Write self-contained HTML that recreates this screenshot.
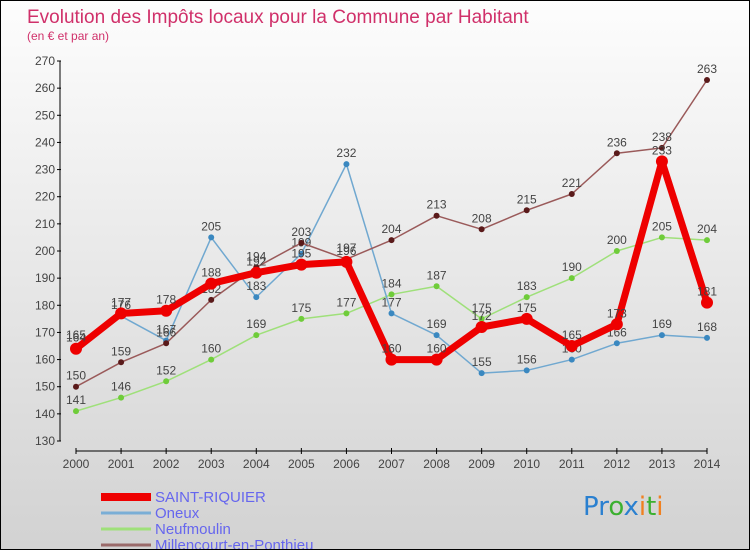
<!DOCTYPE html>
<html><head><meta charset="utf-8"><style>
body{margin:0;}
#c{width:748px;height:548px;border:1px solid #000;background:linear-gradient(#fdfdfd,#d2d2d2);position:relative;overflow:hidden;font-family:"Liberation Sans",sans-serif;}
</style></head><body>
<div id="c">
<svg id="s" width="748" height="548" xmlns="http://www.w3.org/2000/svg">
<text x="26" y="22" font-size="19" fill="#d0306a">Evolution des Impôts locaux pour la Commune par Habitant</text>
<text x="26" y="39" font-size="12" fill="#d0306a">(en € et par an)</text>
</svg>
</div>
<script>
const years=[2000,2001,2002,2003,2004,2005,2006,2007,2008,2009,2010,2011,2012,2013,2014];
const yTicks=[130,140,150,160,170,180,190,200,210,220,230,240,250,260,270];
const saint=[164,177,178,188,192,195,196,160,160,172,175,165,173,233,181];
const oneux=[165,176,167,205,183,199,232,177,169,155,156,160,166,169,168];
const neuf=[141,146,152,160,169,175,177,184,187,175,183,190,200,205,204];
const mill=[150,159,166,182,194,203,197,204,213,208,215,221,236,238,263];
const seriesNames=["SAINT-RIQUIER","Oneux","Neufmoulin","Millencourt-en-Ponthieu"];
const svg=document.getElementById('s');const NS="http://www.w3.org/2000/svg";
function xS(i){return 75+i*(631/14);}
function yS(v){return 60+(270-v)*(380/140);}
function el(t,a,p){const e=document.createElementNS(NS,t);for(const k in a)e.setAttribute(k,a[k]);(p||svg).appendChild(e);return e;}
// axes
let ya=el('line',{x1:59,y1:60,x2:59,y2:440,stroke:'#000'});


yTicks.forEach(v=>{
 el('line',{x1:56,x2:60,y1:yS(v),y2:yS(v),stroke:'#000'});
 const t=el('text',{x:54,y:yS(v)+4,'font-size':12,fill:'#444','text-anchor':'end'});
 t.textContent=v;
 
 
});
let xa=el('line',{x1:75,y1:450,x2:706,y2:450,stroke:'#000'});


years.forEach((y,i)=>{
 el('line',{x1:xS(i),x2:xS(i),y1:447,y2:453,stroke:'#000'});
 const t=el('text',{x:xS(i),y:467,'font-size':12,fill:'#444','text-anchor':'middle'});
 t.textContent=y;
 
 
});
function series(d,col,w,r,dot,name){
 const g=el('g',{});
 
 
 el('polyline',{points:d.map((v,i)=>xS(i)+','+yS(v)).join(' '),fill:'none',stroke:col,'stroke-width':w,'stroke-linejoin':'round'},g);
 d.forEach((v,i)=>{
  const c=el('circle',{cx:xS(i),cy:yS(v),r:r,fill:dot},g);
  
  
  const t=el('text',{x:xS(i),y:yS(v)-7,'font-size':12,fill:'#444','text-anchor':'middle'},g);
  t.textContent=v;
 });
}
series(neuf,'#9fe07a',1.5,3,'#6fcc3a','neufmoulin-series');
series(oneux,'#70a8d0',1.5,3,'#3a88c0','oneux-series');
series(mill,'#9a5a5a',1.5,3,'#5a1a1a','millencourt-series');
series(saint,'#ee0000',7,6,'#ee0000','saint-riquier-series');
// legend
const lc=['#ee0000','#7aaed6','#9fe07a','#9a6a6a'],lw=[8,3,3,3];
seriesNames.forEach((n,i)=>{
 const y=495+i*16;
 const l=el('line',{x1:100,x2:150,y1:y+1,y2:y+1,stroke:lc[i],'stroke-width':lw[i]});
 
 
 const t=el('text',{x:154,y:y+6,'font-size':15,fill:'#6666ee'});
 t.textContent=n;
 
 
});
// logo
const lg=el('text',{x:582,y:514,'font-size':26,'font-family':'DejaVu Sans, sans-serif'});


[['P','#2a80d0'],['r','#2a80d0'],['o','#3bb030'],['x','#2a80d0'],['i','#f08020'],['t','#3bb030'],['i','#f08020']].forEach(([c,f])=>{const s=el('tspan',{fill:f},lg);s.textContent=c;});
</script>
</body></html>
